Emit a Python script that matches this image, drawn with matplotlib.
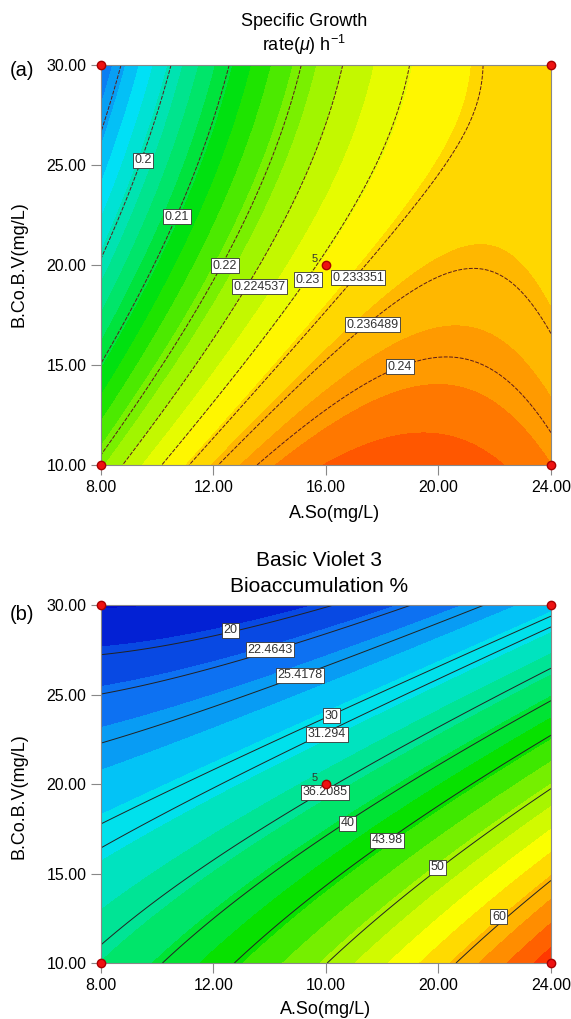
import numpy as np
import matplotlib
matplotlib.use('Agg')
import matplotlib.pyplot as plt
from matplotlib.colors import LinearSegmentedColormap

plt.rcParams['font.family'] = ['Liberation Sans', 'DejaVu Sans']
plt.rcParams['mathtext.fontset'] = 'custom'
plt.rcParams['mathtext.rm'] = 'Liberation Sans'
plt.rcParams['mathtext.it'] = 'Liberation Sans:italic'

# ---------------- data ----------------
# Panel (a): Specific growth rate. Points on contour lines (A.So, B.Co.B.V, value)
a_x = [8.67, 10.53, 12.58, 15.14, 16.67, 18.95, 21.26,
       8.0, 8.0, 8.0, 8.0,
       8.74, 10.17, 11.13, 12.16, 13.66,
       24.0, 24.0, 21.3, 19.8, 16.0, 19.5]
a_y = [30.0, 30.0, 30.0, 30.0, 30.0, 30.0, 30.0,
       26.6, 20.4, 15.0, 10.5,
       10.0, 10.0, 10.0, 10.0, 10.0,
       16.4, 11.85, 19.15, 15.0, 20.0, 10.0]
a_v = [0.19, 0.20, 0.21, 0.22, 0.224537, 0.23, 0.233351,
       0.19, 0.20, 0.21, 0.22,
       0.224537, 0.23, 0.233351, 0.236489, 0.24,
       0.236489, 0.24, 0.236489, 0.24, 0.2315, 0.2465]
a_levels = [0.19, 0.2, 0.21, 0.22, 0.224537, 0.23, 0.233351, 0.236489, 0.24]
a_labels = ['0.2', '0.21', '0.22', '0.224537', '0.23', '0.233351', '0.236489', '0.24']
a_label_x = [9.49, 10.70, 12.41, 13.65, 15.36, 17.14, 17.64, 18.63]
a_label_y = [25.25, 22.4, 19.95, 18.9, 19.25, 19.35, 17.0, 14.9]

# Panel (b): Basic Violet 3 bioaccumulation %
b_x = [8.0, 12.59, 16.9,
       8.0, 14.01, 19.0,
       8.0, 15.08, 21.37,
       8.0, 16.21, 24.0,
       8.0, 16.04, 24.0,
       8.0, 16.0, 24.0,
       10.10, 16.78, 24.0,
       12.87, 18.17, 24.0,
       19.95, 24.0, 16.25,
       22.15, 24.0, 20.69]
b_y = [27.32, 28.6, 30.0,
       24.97, 27.49, 30.0,
       22.18, 26.09, 30.0,
       17.6, 23.8, 29.44,
       16.37, 22.79, 28.77,
       11.34, 20.0, 26.37,
       10.0, 17.82, 24.69,
       10.0, 16.87, 22.63,
       15.36, 19.66, 10.0,
       12.57, 14.47, 10.0]
b_v = [20, 20, 20,
       22.4643, 22.4643, 22.4643,
       25.4178, 25.4178, 25.4178,
       30, 30, 30,
       31.294, 31.294, 31.294,
       36.2085, 36.2085, 36.2085,
       40, 40, 40,
       43.98, 43.98, 43.98,
       50, 50, 50,
       60, 60, 60]
b_levels = [20, 22.4643, 25.4178, 30, 31.294, 36.2085, 40, 43.98, 50, 60]
b_labels = ['20', '22.4643', '25.4178', '30', '31.294', '36.2085', '40', '43.98', '50', '60']
b_label_x = [12.59, 14.01, 15.08, 16.21, 16.04, 15.96, 16.78, 18.17, 19.95, 22.15]
b_label_y = [28.6, 27.49, 26.09, 23.8, 22.79, 19.55, 17.82, 16.87, 15.36, 12.57]

# design points
design_x = [8, 8, 24, 24]
design_y = [10, 30, 10, 30]
center_x = [16]
center_y = [20]

x_ticks = [8, 12, 16, 20, 24]
a_xtick_labels = ['8.00', '12.00', '16.00', '20.00', '24.00']
b_xtick_labels = ['8.00', '12.00', '10.00', '20.00', '24.00']
y_ticks = [10, 15, 20, 25, 30]
y_tick_labels = ['10.00', '15.00', '20.00', '25.00', '30.00']

# ---------------- surface model (quadratic response surface) ----------------
def design_matrix(x, y):
    A = (np.asarray(x, float) - 16.0) / 8.0
    B = (np.asarray(y, float) - 20.0) / 10.0
    return np.column_stack([np.ones_like(A), A, B, A * B, A ** 2, B ** 2])


def fit(x, y, v):
    coef, *_ = np.linalg.lstsq(design_matrix(x, y), np.asarray(v, float), rcond=None)
    return coef


gx = np.linspace(8, 24, 400)
gy = np.linspace(10, 30, 400)
GX, GY = np.meshgrid(gx, gy)


def surface(coef):
    return (design_matrix(GX.ravel(), GY.ravel()) @ coef).reshape(GX.shape)


cmap = LinearSegmentedColormap.from_list('de', [
    (0.00, (0.00, 0.05, 0.80)),
    (0.12, (0.05, 0.45, 0.95)),
    (0.25, (0.00, 0.88, 0.97)),
    (0.40, (0.00, 0.90, 0.45)),
    (0.50, (0.00, 0.88, 0.00)),
    (0.62, (0.55, 0.95, 0.00)),
    (0.75, (1.00, 1.00, 0.00)),
    (0.87, (1.00, 0.62, 0.00)),
    (1.00, (1.00, 0.18, 0.00)),
])

fig = plt.figure(figsize=(5.71, 10.19), dpi=100)
ax1 = fig.add_axes([0.1769, 0.5437, 0.788, 0.3925])
ax2 = fig.add_axes([0.1769, 0.05496, 0.788, 0.3513])


def draw(ax, coef, vmin, vmax, step, levels, labels, lx, ly, xtl, ls, lcolor):
    Z = surface(coef)
    bands = np.arange(vmin, vmax + step, step)
    ax.contourf(GX, GY, Z, levels=bands, cmap=cmap, vmin=vmin, vmax=vmax, extend='both')
    ax.contour(GX, GY, Z, levels=levels, colors=lcolor, linewidths=0.7, linestyles=ls)
    for t, x, y in zip(labels, lx, ly):
        ax.text(x, y, t, fontsize=9, ha='center', va='center', zorder=6, color='#333333',
                bbox=dict(boxstyle='square,pad=0.12', fc='white', ec='#333333', lw=0.6))
    ax.plot(design_x, design_y, 'o', color='#ee1111', mec='#aa0000', ms=6, clip_on=False, zorder=7)
    ax.plot(center_x, center_y, 'o', color='#ee1111', mec='#aa0000', ms=6, zorder=7)
    ax.annotate('5', (center_x[0], center_y[0]), xytext=(-8, 1), textcoords='offset points',
                fontsize=8, ha='center', va='bottom', color='#333333', zorder=7)
    ax.set_xlim(8, 24)
    ax.set_ylim(10, 30)
    ax.set_xticks(x_ticks)
    ax.set_xticklabels(xtl)
    ax.set_yticks(y_ticks)
    ax.set_yticklabels(y_tick_labels)
    ax.tick_params(direction='out', length=7, width=0.8, color='#888888', labelsize=11.5, pad=3.5)
    for s in ax.spines.values():
        s.set_color('#888888')
        s.set_linewidth(0.8)


coef_a = fit(a_x, a_y, a_v)
coef_b = fit(b_x, b_y, b_v)
draw(ax1, coef_a, 0.177, 0.249, 0.0028, a_levels, a_labels, a_label_x, a_label_y,
     a_xtick_labels, [(0, (4, 1.5))], '#5a1a1a')
draw(ax2, coef_b, 17.0, 69.0, 2.5, b_levels, b_labels, b_label_x, b_label_y,
     b_xtick_labels, 'solid', '#222222')

W, H = 571.0, 1019.0
fig.text(304 / W, 1 - 22 / H, 'Specific Growth', ha='center', va='center', fontsize=13)
fig.text(304 / W, 1 - 45 / H, r'rate($\mu$) h$^{-1}$', ha='center', va='center', fontsize=13)
fig.text(319 / W, 1 - 560 / H, 'Basic Violet 3', ha='center', va='center', fontsize=15)
fig.text(319 / W, 1 - 586 / H, 'Bioaccumulation %', ha='center', va='center', fontsize=15)
fig.text(10 / W, 1 - 70 / H, '(a)', ha='left', va='center', fontsize=14.5)
fig.text(10 / W, 1 - 615 / H, '(b)', ha='left', va='center', fontsize=14.5)
fig.text(335 / W, 1 - 514 / H, 'A.So(mg/L)', ha='center', va='center', fontsize=13)
fig.text(326 / W, 1 - 1009 / H, 'A.So(mg/L)', ha='center', va='center', fontsize=13)
fig.text(19 / W, 1 - 264 / H, 'B.Co.B.V(mg/L)', ha='center', va='center', rotation=90, fontsize=13)
fig.text(19 / W, 1 - 796 / H, 'B.Co.B.V(mg/L)', ha='center', va='center', rotation=90, fontsize=13)

fig.savefig('out.png', dpi=100, facecolor='white')
